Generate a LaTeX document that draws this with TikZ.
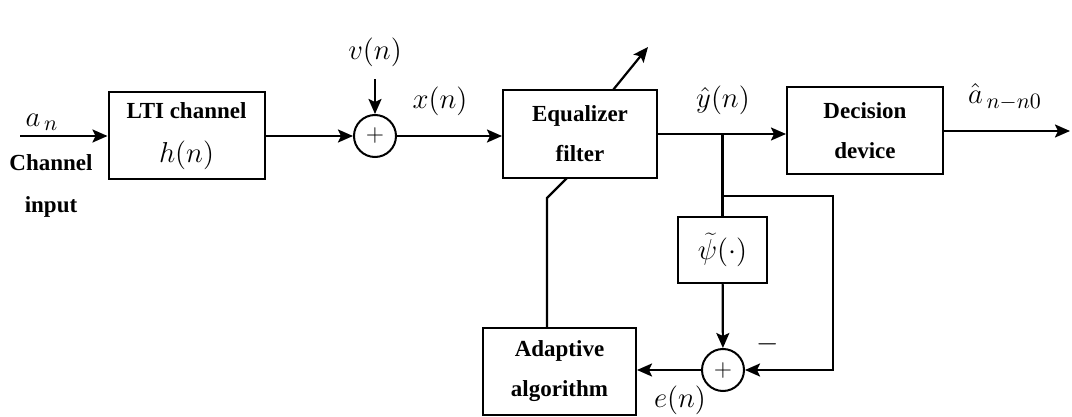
\documentclass[tikz,border=0pt]{standalone}
\usepackage{fontspec}
\setmainfont{Liberation Serif}
\usetikzlibrary{arrows.meta}

\begin{document}
\begin{tikzpicture}[x=0.5pt, y=-0.5pt,
    every node/.style={font=\fontsize{15}{17}\selectfont},
    block/.style={rectangle, draw, line width=1pt, align=center,
                  font=\bfseries\fontsize{11.5}{20}\selectfont,
                  minimum width=78pt, minimum height=43.5pt},
    adder/.style={circle, draw, line width=1pt, minimum size=21pt, inner sep=0pt},
    wire/.style={line width=1.1pt},
    arrow/.style={wire, -{Stealth[length=7.5pt, width=6.5pt, inset=1.5pt]}}
]
    \useasboundingbox (0,0) rectangle (1072,417);

    % blocks
    \node[block] (chan) at (186.5,136) {LTI channel\\[2pt]{\mdseries\fontsize{14}{16}\selectfont$h(n)$}};
    \node[adder, font=\fontsize{13}{15}\selectfont] (sum1) at (375,136) {$+$};
    \node[block, minimum width=77pt, minimum height=44pt] (eq) at (580,134) {Equalizer\\filter};
    \node[block] (dec) at (865,131) {Decision\\device};
    \node[block, minimum width=44.5pt, minimum height=33pt,
          font=\fontsize{14}{16}\selectfont] (psi) at (722.5,250) {$\widetilde{\psi}(\cdot)$};
    \node[adder, font=\fontsize{13}{15}\selectfont] (sum2) at (723,370) {$+$};
    \node[block, minimum width=76.5pt] (adapt) at (559.5,371.5) {Adaptive\\algorithm};

    % labels
    \node (an) at (42,122) {$a_{\,n}$};
    \node[align=center, font=\bfseries\fontsize{11.5}{21}\selectfont] (chin) at (51,186) {Channel\\input};
    \node (vn) at (375,52) {$v(n)$};
    \node (xn) at (440,101) {$x(n)$};
    \node (yn) at (723,100) {$\hat{y}(n)$};
    \node (ahat) at (1005,97) {$\hat{a}_{\,n-n0}$};
    \node (en) at (680,400) {$e(n)$};
    \node (minus) at (768,344) {$-$};

    \coordinate (in) at (20,136);
    \coordinate (out) at (1070,131);
    \coordinate (br) at (722.5,134);
    \coordinate (tap) at (722.5,196);
    \coordinate (fb) at (833,196);
    \coordinate (kink) at (547,198);
    \coordinate (adj1) at (567,178);
    \coordinate (adj2) at (613,90);
    \coordinate (tip) at (648,47);

    % signal path
    \draw[arrow] (in) -- (chan);
    \draw[arrow] (chan) -- (sum1);
    \draw[arrow] ([yshift=-3pt]vn.south) -- (sum1);
    \draw[arrow] (sum1) -- (sum1 -| eq.west);
    \draw[arrow] (eq.east) -- (eq.east -| dec.west);
    \draw[arrow] (dec.east |- out) -- (out);

    % error feedback
    \draw[wire] (br) -- (psi);
    \draw[arrow] (tap) -- (fb) |- (sum2);
    \draw[arrow] (psi) -- (sum2);
    \draw[arrow] (sum2) -- (sum2 -| adapt.east);
    \draw[wire] (adapt.north -| kink) -- (kink) -- (adj1);
    \draw[arrow] (adj2) -- (tip);
\end{tikzpicture}
\end{document}
